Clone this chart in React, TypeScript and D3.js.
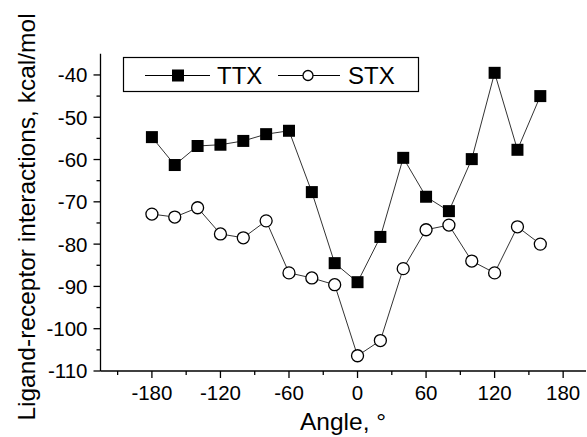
import React from 'react';
import * as d3 from 'd3';

const angles = [-180, -160, -140, -120, -100, -80, -60, -40, -20, 0, 20, 40, 60, 80, 100, 120, 140, 160];
const ttx = [-54.7, -61.3, -56.8, -56.5, -55.6, -54.0, -53.2, -67.7, -84.5, -89.0, -78.3, -59.6, -68.8, -72.2, -59.9, -39.5, -57.7, -45.0];
const stx = [-72.9, -73.6, -71.4, -77.6, -78.5, -74.5, -86.8, -88.0, -89.6, -106.4, -102.8, -85.8, -76.6, -75.5, -84.0, -86.8, -75.9, -80.0];

const xMajor = [-180, -120, -60, 0, 60, 120, 180];
const xMinor = [-210, -150, -90, -30, 30, 90, 150];
const yMajor = [-110, -100, -90, -80, -70, -60, -50, -40];
const yMinor = [-105, -95, -85, -75, -65, -55, -45];

const W = 587;
const H = 437;
const font = 'Arial, "Liberation Sans", sans-serif';

export default function App() {
  const x = d3.scaleLinear().domain([-225, 200]).range([100.5, 586]);
  const y = d3.scaleLinear().domain([-110, -35]).range([371, 53.8]);

  const line = d3.line<number>()
    .x((_, i) => x(angles[i]))
    .y(d => y(d));

  const x0 = x.range()[0];
  const y0 = y.range()[0];

  return (
    <svg width={W} height={H} style={{position: 'fixed', left: 0, top: 0, background: '#fff'}} fontFamily={font}>
      {/* axes */}
      <line x1={x0} x2={x0} y1={y(-35)} y2={y0} stroke="#000" strokeWidth={1.3} />
      <line x1={x0} x2={x(200)} y1={y0} y2={y0} stroke="#000" strokeWidth={1.3} />
      {yMajor.map(v => (
        <g key={'ym' + v}>
          <line x1={x0 - 7} x2={x0} y1={y(v)} y2={y(v)} stroke="#000" strokeWidth={1.3} />
          <text x={x0 - 13} y={y(v)} dy="0.36em" textAnchor="end" fontSize={20.5}>{v}</text>
        </g>
      ))}
      {yMinor.map(v => (
        <line key={'yn' + v} x1={x0 - 4} x2={x0} y1={y(v)} y2={y(v)} stroke="#000" strokeWidth={1.3} />
      ))}
      {xMajor.map(v => (
        <g key={'xm' + v}>
          <line x1={x(v)} x2={x(v)} y1={y0} y2={y0 + 7} stroke="#000" strokeWidth={1.3} />
          <text x={x(v)} y={400} textAnchor="middle" fontSize={20.5}>{v}</text>
        </g>
      ))}
      {xMinor.map(v => (
        <line key={'xn' + v} x1={x(v)} x2={x(v)} y1={y0} y2={y0 + 4} stroke="#000" strokeWidth={1.3} />
      ))}

      {/* axis titles */}
      <text x={300} y={430} fontSize={24.5}>Angle, °</text>
      <text transform="translate(35,217) rotate(-90)" textAnchor="middle" fontSize={24.5}>Ligand-receptor interactions, kcal/mol</text>

      {/* series */}
      <path d={line(ttx) || ''} fill="none" stroke="#333" strokeWidth={1} />
      <path d={line(stx) || ''} fill="none" stroke="#333" strokeWidth={1} />
      {ttx.map((v, i) => (
        <rect key={'t' + i} x={x(angles[i]) - 6} y={y(v) - 6} width={12} height={12} fill="#000" />
      ))}
      {stx.map((v, i) => (
        <circle key={'s' + i} cx={x(angles[i])} cy={y(v)} r={6} fill="#fff" stroke="#000" strokeWidth={1.3} />
      ))}

      {/* legend */}
      <rect x={123.5} y={57.5} width={295} height={34} fill="#fff" stroke="#000" strokeWidth={1.2} />
      <line x1={145} x2={210} y1={75.5} y2={75.5} stroke="#000" strokeWidth={1} />
      <rect x={172} y={69.5} width={12} height={12} fill="#000" />
      <text x={217} y={84} fontSize={24}>TTX</text>
      <line x1={278} x2={340} y1={75.5} y2={75.5} stroke="#000" strokeWidth={1} />
      <circle cx={308} cy={75.5} r={5} fill="#fff" stroke="#000" strokeWidth={1.3} />
      <text x={348} y={84} fontSize={24}>STX</text>
    </svg>
  );
}
